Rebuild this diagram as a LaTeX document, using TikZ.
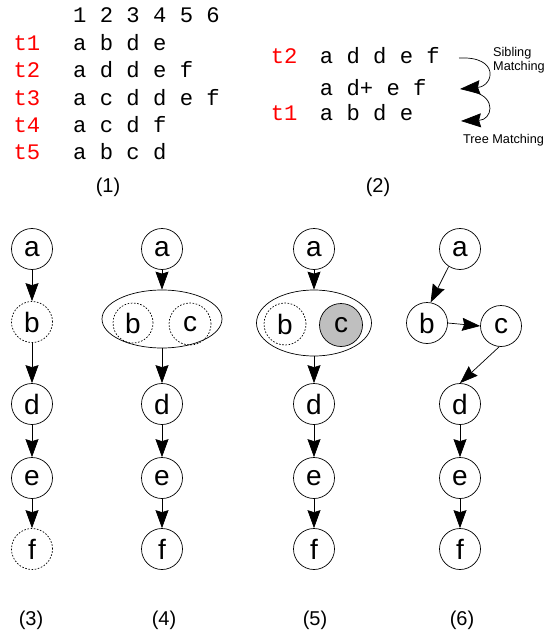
\documentclass[tikz,border=0pt]{standalone}
\usepackage{fontspec}
\setmainfont{Liberation Sans}
\setmonofont{Liberation Mono}
\usetikzlibrary{arrows.meta,shapes.geometric}
\begin{document}
\begin{tikzpicture}[x=1pt,y=-1pt,
  tnode/.style={circle, draw, line width=0.7pt, minimum size=41pt, inner sep=0pt, font=\fontsize{28}{28}\selectfont},
  dnode/.style={tnode, dash pattern=on 1.6pt off 1.6pt},
  gnode/.style={tnode, fill=black!25},
  grp/.style={ellipse, draw, line width=0.7pt, inner sep=0pt},
  arr/.style={-{Stealth[length=18pt,width=13pt,inset=2pt]}, line width=0.7pt},
  carr/.style={-{Stealth[length=20pt,width=14pt,inset=2pt]}, line width=0.7pt},
  mono/.style={font=\ttfamily\fontsize{22.2}{22.2}\selectfont, anchor=base west, inner sep=0pt},
  tlab/.style={mono, text=red},
  lab/.style={font=\fontsize{20}{20}\selectfont, anchor=base, inner sep=0pt},
  small/.style={font=\fontsize{12.7}{14.3}\selectfont, align=left, inner sep=0pt, anchor=base west}
]
\useasboundingbox (0,0) rectangle (556,631);

% ---------- panel (1)
\node[mono] (hdr) at (73,23) {1 2 3 4 5 6};
\node[tlab] (t1a) at (13.4,50.4) {t1};
\node[mono] (r1) at (73,50.4) {a b d e};
\node[tlab] (t2a) at (13.4,77.8) {t2};
\node[mono] (r2) at (73,77.8) {a d d e f};
\node[tlab] (t3a) at (13.4,105.2) {t3};
\node[mono] (r3) at (73,105.2) {a c d d e f};
\node[tlab] (t4a) at (13.4,132.6) {t4};
\node[mono] (r4) at (73,132.6) {a c d f};
\node[tlab] (t5a) at (13.4,160) {t5};
\node[mono] (r5) at (73,160) {a b c d};
\node[lab] (l1) at (108,193) {(1)};

% ---------- panel (2)
\node[tlab] (t2b) at (270.6,64) {t2};
\node[mono] (s1) at (319.7,64) {a d d e f};
\node[mono] (s2) at (319.7,96) {a d+ e f};
\node[tlab] (t1b) at (270.6,120.5) {t1};
\node[mono] (s3) at (319.7,120.5) {a b d e};
\node[small] (sib) at (493,70.7) {Sibling\\Matching};
\node[small] (tm) at (463,144) {Tree Matching};
\node[lab] (l2) at (378,193) {(2)};
\coordinate (p1) at (459,58);
\coordinate (p2) at (460,89);
\coordinate (p3) at (474,92);
\coordinate (p4) at (461,121);
\draw[carr] (p1) .. controls (500,56) and (494,86) .. (p2);
\draw[carr] (p3) .. controls (497,98) and (492,120) .. (p4);

% ---------- tree (3)
\node[tnode] (a3) at (32,249) {a};
\node[dnode] (b3) at (32,322) {b};
\node[tnode] (d3) at (32,404) {d};
\node[tnode] (e3) at (32,478) {e};
\node[dnode] (f3) at (32,549) {f};
\draw[arr] (a3) -- (b3);
\draw[arr] (b3) -- (d3);
\draw[arr] (d3) -- (e3);
\draw[arr] (e3) -- (f3);
\node[lab] (l3) at (31,625) {(3)};

% ---------- tree (4)
\node[tnode] (a4) at (162,249) {a};
\node[grp, minimum width=120pt, minimum height=58pt] (g4) at (162,319) {};
\node[dnode, minimum size=40pt] (b4) at (133,323) {b};
\node[dnode, minimum size=42pt] (c4) at (190,324) {c};
\node[tnode] (d4) at (162,404) {d};
\node[tnode] (e4) at (162,478) {e};
\node[tnode] (f4) at (162,549) {f};
\draw[arr] (a4) -- (g4);
\draw[arr] (g4) -- (d4);
\draw[arr] (d4) -- (e4);
\draw[arr] (e4) -- (f4);
\node[lab] (l4) at (164,625) {(4)};

% ---------- tree (5)
\node[tnode] (a5) at (314,249) {a};
\node[grp, minimum width=115pt, minimum height=66pt] (g5) at (314,323) {};
\node[dnode, minimum size=42pt] (b5) at (285,324) {b};
\node[gnode, minimum size=43pt] (c5) at (341,325) {c};
\node[tnode] (d5) at (314,404) {d};
\node[tnode] (e5) at (314,478) {e};
\node[tnode] (f5) at (314,549) {f};
\draw[arr] (a5) -- (g5);
\draw[arr] (g5) -- (d5);
\draw[arr] (d5) -- (e5);
\draw[arr] (e5) -- (f5);
\node[lab] (l5) at (315,625) {(5)};

% ---------- tree (6)
\node[tnode] (a6) at (460,249) {a};
\node[tnode] (b6) at (427,323) {b};
\node[tnode] (c6) at (501,326) {c};
\node[tnode] (d6) at (460,404) {d};
\node[tnode] (e6) at (460,478) {e};
\node[tnode] (f6) at (460,549) {f};
\draw[arr] (a6.237) -- (b6.80);
\draw[arr] (b6.east) -- (c6.west);
\draw[arr] (c6.265) -- (d6.north);
\draw[arr] (d6) -- (e6);
\draw[arr] (e6) -- (f6);
\node[lab] (l6) at (462,625) {(6)};
\end{tikzpicture}
\end{document}
